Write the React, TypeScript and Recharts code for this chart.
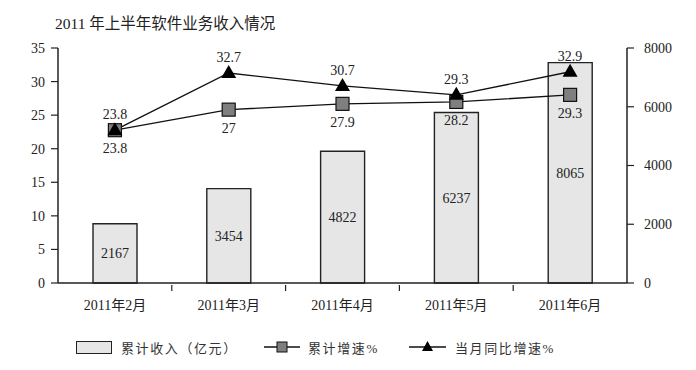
import React from "react";
import {
  ComposedChart,
  Bar,
  Line,
  XAxis,
  YAxis,
  LabelList
} from "recharts";

const months = ["2011年2月", "2011年3月", "2011年4月", "2011年5月", "2011年6月"];
const revenue = [2167, 3454, 4822, 6237, 8065];
const cumGrowth = [23.8, 27, 27.9, 28.2, 29.3];
const monthGrowth = [23.8, 32.7, 30.7, 29.3, 32.9];
const leftTicks = [0, 5, 10, 15, 20, 25, 30, 35];
const rightTicks = [0, 2000, 4000, 6000, 8000];

const data = months.map((m, i) => ({
  month: m,
  revenue: revenue[i],
  cum: cumGrowth[i],
  mon: monthGrowth[i]
}));

const FONT = '"Liberation Serif", "Noto Sans CJK SC", serif';
const INK = "#222222";

const SquareDot = (props: any) => {
  const { cx, cy } = props;
  if (cx == null || cy == null) return null;
  return <rect x={cx - 6.5} y={cy - 6.5} width={13} height={13} fill="#7f7f7f" stroke="#111" strokeWidth={1.2} />;
};

const TriangleDot = (props: any) => {
  const { cx, cy } = props;
  if (cx == null || cy == null) return null;
  return <polygon points={`${cx},${cy - 8} ${cx - 7.5},${cy + 5} ${cx + 7.5},${cy + 5}`} fill="#000" />;
};

const MonthTick = (props: any) => {
  const { x, y, payload, index } = props;
  const half = payload && payload.offset ? payload.offset : 56.9;
  return (
    <g>
      {index > 0 && <line x1={x - half} y1={y - 6} x2={x - half} y2={y} stroke={INK} strokeWidth={1.2} />}
      <text x={x} y={y + 19} textAnchor="middle" fontSize={14} fill={INK} fontFamily={FONT}>
        {payload.value}
      </text>
    </g>
  );
};

const ChartLegend = () => (
  <div style={{ position: "absolute", left: 0, top: 338, width: 696, height: 20, fontFamily: FONT, fontSize: 13, color: "#333", letterSpacing: 1.6 }}>
    <div style={{ position: "absolute", left: 76, top: 3, width: 34, height: 11, background: "#e6e6e6", border: "1px solid #222" }} />
    <div style={{ position: "absolute", left: 121, top: 0 }}>累计收入（亿元）</div>
    <svg style={{ position: "absolute", left: 264, top: 0 }} width={36} height={18}>
      <line x1={0} y1={9} x2={36} y2={9} stroke="#111" strokeWidth={1.3} />
      <rect x={13} y={4} width={10} height={10} fill="#7f7f7f" stroke="#111" />
    </svg>
    <div style={{ position: "absolute", left: 308, top: 0 }}>累计增速%</div>
    <svg style={{ position: "absolute", left: 409, top: 0 }} width={37} height={18}>
      <line x1={0} y1={9} x2={37} y2={9} stroke="#111" strokeWidth={1.3} />
      <polygon points="18.5,3 13,13 24,13" fill="#000" />
    </svg>
    <div style={{ position: "absolute", left: 455, top: 0 }}>当月同比增速%</div>
  </div>
);

const App: React.FC = () => {
  return (
    <div style={{ position: "absolute", left: 0, top: 0, width: 696, height: 370, background: "#fff" }}>
      <div
        style={{
          position: "absolute",
          left: 55,
          top: 11,
          fontFamily: FONT,
          fontSize: 15.5,
          color: "#222",
          whiteSpace: "nowrap"
        }}
      >
        2011 年上半年软件业务收入情况
      </div>
      <ComposedChart
        width={696}
        height={370}
        data={data}
        margin={{ top: 48, right: 0, bottom: 57, left: 0 }}
        style={{ position: "absolute", left: 0, top: 0 }}
      >
        <XAxis
          dataKey="month"
          height={30}
          axisLine={{ stroke: INK, strokeWidth: 1.5 }}
          tickLine={false}
          tick={<MonthTick />}
          interval={0}
        />
        <YAxis
          yAxisId="left"
          orientation="left"
          width={58}
          type="number"
          domain={[0, 35]}
          ticks={leftTicks}
          interval={0}
          allowDataOverflow
          axisLine={{ stroke: INK, strokeWidth: 1.5 }}
          tickLine={{ stroke: INK, strokeWidth: 1.2 }}
          tickSize={7}
          tickMargin={6}
          tick={{ fontSize: 14, fill: INK, fontFamily: FONT }}
        />
        <YAxis
          yAxisId="right"
          orientation="right"
          width={69}
          type="number"
          domain={[0, 8000]}
          ticks={rightTicks}
          interval={0}
          allowDataOverflow
          axisLine={{ stroke: INK, strokeWidth: 1.5 }}
          tickLine={{ stroke: INK, strokeWidth: 1.2 }}
          tickSize={7}
          tickMargin={10}
          tick={{ fontSize: 14, fill: INK, fontFamily: FONT }}
        />
        <YAxis yAxisId="barScale" hide width={0} orientation="right" type="number" domain={[0, 8600]} />
        <YAxis yAxisId="lineScale" hide width={0} orientation="right" type="number" domain={[0, 36.6]} />
        {/* invisible carriers so the two visible axes get drawn */}
        <Line yAxisId="left" dataKey="cum" stroke="none" dot={false} activeDot={false} legendType="none" isAnimationActive={false} />
        <Line yAxisId="right" dataKey="revenue" stroke="none" dot={false} activeDot={false} legendType="none" isAnimationActive={false} />
        <Bar
          yAxisId="barScale"
          dataKey="revenue"
          barSize={44}
          fill="#e6e6e6"
          stroke="#222"
          strokeWidth={1.4}
          isAnimationActive={false}
        >
          <LabelList dataKey="revenue" position="center" fontSize={14} fill={INK} fontFamily={FONT} />
        </Bar>
        <Line
          yAxisId="lineScale"
          dataKey="cum"
          stroke="#111"
          strokeWidth={1.3}
          dot={<SquareDot />}
          activeDot={false}
          isAnimationActive={false}
        >
          <LabelList dataKey="cum" position="bottom" offset={13} fontSize={14} fill={INK} fontFamily={FONT} />
        </Line>
        <Line
          yAxisId="lineScale"
          dataKey="mon"
          stroke="#111"
          strokeWidth={1.3}
          dot={<TriangleDot />}
          activeDot={false}
          isAnimationActive={false}
        >
          <LabelList dataKey="mon" position="top" offset={11} fontSize={14} fill={INK} fontFamily={FONT} />
        </Line>
      </ComposedChart>
      <ChartLegend />
    </div>
  );
};

export default App;
